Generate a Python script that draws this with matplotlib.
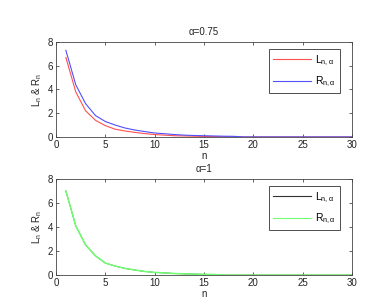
import numpy as np
import matplotlib.pyplot as plt

plt.rcParams['font.family'] = ['Liberation Sans', 'DejaVu Sans']
plt.rcParams['mathtext.fontset'] = 'custom'
plt.rcParams['mathtext.rm'] = 'Liberation Sans'
plt.rcParams['mathtext.it'] = 'Liberation Sans'
plt.rcParams['font.size'] = 7

n = np.arange(1, 31)

# alpha = 0.75
L_075 = [6.7, 3.8, 2.2, 1.4, 0.95, 0.65, 0.5, 0.38, 0.28, 0.2, 0.15, 0.1, 0.08, 0.06, 0.04,
         0.03, 0.02, 0.01, 0, 0, 0, 0, 0, 0, 0, 0, 0, 0, 0, 0]
R_075 = [7.3, 4.4, 2.8, 1.8, 1.3, 1.0, 0.75, 0.58, 0.45, 0.33, 0.27, 0.2, 0.15, 0.12, 0.1,
         0.08, 0.06, 0.05, 0, 0, 0, 0, 0, 0, 0, 0, 0, 0, 0, 0]
# alpha = 1
L_1 = [7.0, 4.1, 2.5, 1.6, 1.0, 0.75, 0.55, 0.42, 0.3, 0.22, 0.18, 0.13, 0.1, 0.08, 0.06,
       0.05, 0, 0, 0, 0, 0, 0, 0, 0, 0, 0, 0, 0, 0, 0]
R_1 = list(L_1)

fig = plt.figure(figsize=(3.89, 3.07), dpi=100)
ax1 = fig.add_axes([0.144, 0.554, 0.761, 0.309])
ax2 = fig.add_axes([0.144, 0.104, 0.761, 0.313])

def estilo(ax, titulo):
    ax.set_xlim(0, 30)
    ax.set_ylim(0, 8)
    ax.set_xticks(range(0, 31, 5))
    ax.set_yticks(range(0, 9, 2))
    ax.tick_params(direction='in', top=True, right=True, length=2.5, width=0.5,
                   colors='#222222', labelsize=7, pad=2)
    for s in ax.spines.values():
        s.set_linewidth(0.6)
        s.set_color('#444444')
    ax.set_title(titulo, fontsize=7, pad=5, color='#222222')
    ax.set_xlabel('n', fontsize=7, labelpad=1, color='#222222')
    ax.set_ylabel(r'L$_n$ & R$_n$', fontsize=7, labelpad=3, color='#222222')
    leg = ax.legend(loc='upper right', fancybox=False, edgecolor='#222222',
                    fontsize=7.5, handlelength=3.6, handletextpad=0.4,
                    labelspacing=0.7, borderaxespad=0.6,
                    bbox_to_anchor=(0.98, 0.99))
    leg.get_frame().set_linewidth(0.7)
    for h in leg.get_lines():
        h.set_linewidth(0.8)

ax1.plot(n, L_075, color='#ff5050', lw=0.8, label=r'L$_{n,\alpha}$')
ax1.plot(n, R_075, color='#5050ff', lw=0.8, label=r'R$_{n,\alpha}$')
estilo(ax1, 'α=0.75')

ax2.plot(n, L_1, color='#333333', lw=0.6, label=r'L$_{n,\alpha}$')
ax2.plot(n, R_1, color='#70ff70', lw=1.1, label=r'R$_{n,\alpha}$')
estilo(ax2, 'α=1')

fig.savefig('out.png', dpi=100)
